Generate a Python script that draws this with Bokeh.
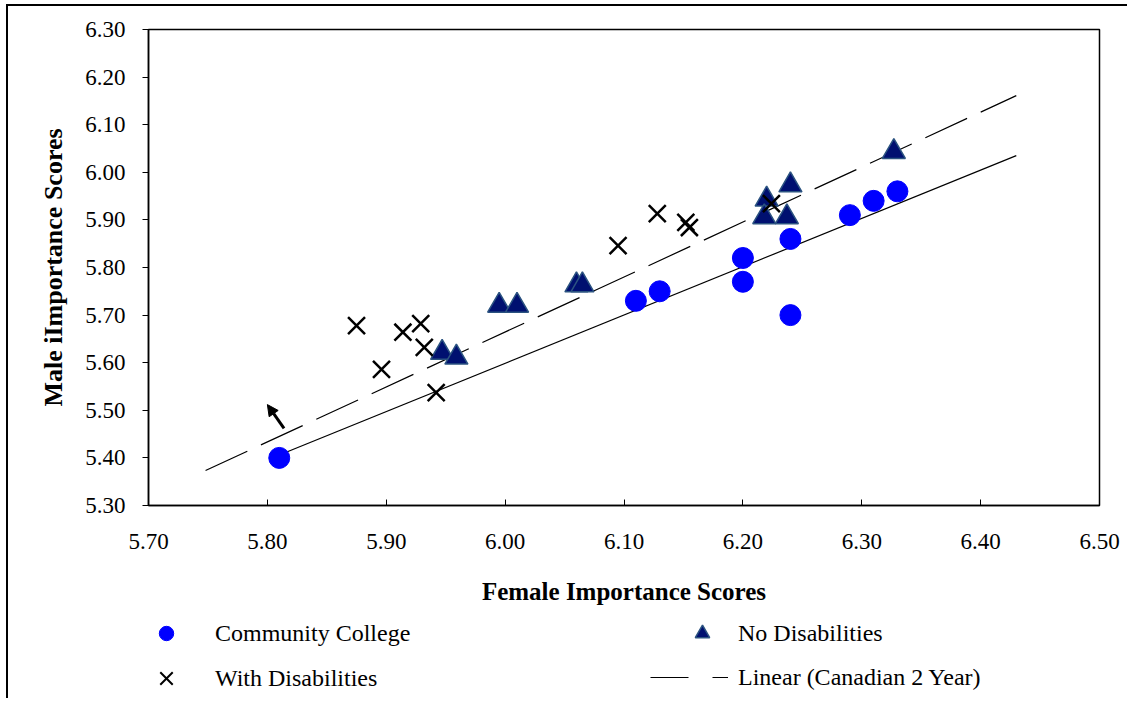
from bokeh.plotting import figure
from bokeh.layouts import column
from bokeh.models import (Range1d, FixedTicker, NumeralTickFormatter, Legend, LegendItem,
                          Arrow, NormalHead)
from bokeh.embed import file_html
from bokeh.resources import INLINE

# ---- data ----
x_ticks = [5.70, 5.80, 5.90, 6.00, 6.10, 6.20, 6.30, 6.40, 6.50]
y_ticks = [5.30, 5.40, 5.50, 5.60, 5.70, 5.80, 5.90, 6.00, 6.10, 6.20, 6.30]

cc_x = [5.81, 6.11, 6.13, 6.20, 6.20, 6.24, 6.24, 6.29, 6.31, 6.33]
cc_y = [5.40, 5.73, 5.75, 5.82, 5.77, 5.86, 5.70, 5.91, 5.94, 5.96]

nd_x = [5.995, 6.01, 5.947, 5.959, 6.06, 6.065, 6.22, 6.24, 6.218, 6.237, 6.327]
nd_y = [5.720, 5.720, 5.621, 5.611, 5.763, 5.763, 5.943, 5.973, 5.906, 5.906, 6.043]

wd_x = [5.875, 5.914, 5.929, 5.932, 5.896, 5.942, 6.095, 6.128, 6.152, 6.155, 6.224]
wd_y = [5.678, 5.664, 5.682, 5.632, 5.586, 5.537, 5.846, 5.913, 5.895, 5.884, 5.934]

trend_solid_x = [5.809, 6.430]
trend_solid_y = [5.405, 6.035]
trend_dash_x = [5.748, 6.430]
trend_dash_y = [5.3735, 6.161]

arrow_tail = (5.814, 5.462)
arrow_head = (5.800, 5.512)

labels = ["Community College", "No Disabilities", "With Disabilities", "Linear (Canadian 2 Year)"]

FONT = "Liberation Serif"
CC_STYLE = dict(marker="circle", fill_color="#0000FF", line_color="#0000FF")
ND_STYLE = dict(marker="triangle", fill_color="#001070", line_color="#2B5380", line_width=1.5)
WD_STYLE = dict(marker="x", line_color="black", line_width=2.5)

p = figure(width=1119, height=606, output_backend="svg", toolbar_location=None,
           x_range=Range1d(5.70, 6.50), y_range=Range1d(5.30, 6.30),
           min_border_left=140, min_border_top=23, min_border_right=28, min_border_bottom=107,
           x_axis_label="Female Importance Scores", y_axis_label="Male iImportance Scores")

p.xgrid.visible = False
p.ygrid.visible = False
p.outline_line_color = "black"
p.outline_line_width = 1.5
p.background_fill_color = "white"
p.border_fill_color = "white"

for ax, ticks in ((p.xaxis[0], x_ticks), (p.yaxis[0], y_ticks)):
    ax.ticker = FixedTicker(ticks=ticks)
    ax.formatter = NumeralTickFormatter(format="0.00")
    ax.minor_tick_line_color = None
    ax.axis_line_width = 1.5
    ax.axis_line_color = "black"
    ax.major_tick_line_color = "black"
    ax.major_label_text_font = FONT
    ax.major_label_text_font_size = "23px"
    ax.major_label_text_color = "black"
    ax.axis_label_text_font = FONT
    ax.axis_label_text_font_style = "bold"
    ax.axis_label_text_color = "black"

p.xaxis.major_tick_in = 6
p.xaxis.major_tick_out = 0
p.xaxis.major_label_standoff = 28
p.xaxis.axis_label_standoff = 26
p.xaxis.axis_label_text_font_size = "25px"

p.yaxis.major_tick_in = 0
p.yaxis.major_tick_out = 6
p.yaxis.major_label_standoff = 17
p.yaxis.axis_label_standoff = 14
p.yaxis.axis_label_text_font_size = "26px"

# trend lines
p.line(trend_solid_x, trend_solid_y, line_color="black", line_width=1.2)
p.line(trend_dash_x, trend_dash_y, line_color="black", line_width=1.2, line_dash="46 15")

# points
p.scatter(cc_x, cc_y, size=21, **CC_STYLE)
p.scatter(nd_x, nd_y, size=23, **ND_STYLE)
p.scatter(wd_x, wd_y, size=24, **WD_STYLE)

p.add_layout(Arrow(end=NormalHead(size=11, fill_color="black", line_color="black"),
                   x_start=arrow_tail[0], y_start=arrow_tail[1],
                   x_end=arrow_head[0], y_end=arrow_head[1],
                   line_width=3, line_color="black"))

# ---- legend strip below the chart (its frame is aligned with the chart frame) ----
lf = figure(width=1119, height=86, output_backend="svg", toolbar_location=None,
            x_range=Range1d(0, 1), y_range=Range1d(0, 1),
            x_axis_location=None, y_axis_location=None,
            min_border_left=0, min_border_right=0, min_border_top=0, min_border_bottom=0)
lf.xgrid.visible = False
lf.ygrid.visible = False
lf.outline_line_color = None
lf.background_fill_color = "white"
lf.border_fill_color = "white"

nan = float("nan")
lg_cc = lf.scatter(x=[nan], y=[nan], size=16, **CC_STYLE)
lg_nd = lf.scatter(x=[nan], y=[nan], size=18, **ND_STYLE)
lg_wd = lf.scatter(x=[nan], y=[nan], size=18, marker="x", line_color="black", line_width=2)
lg_line = lf.line(x=[nan, nan], y=[nan, nan], line_color="black", line_width=1.2,
                  line_dash="38 24 16 200")


def make_legend(item, loc, glyph_w, glyph_h, standoff):
    lg = Legend(items=[item], location=loc, orientation="vertical",
                glyph_width=glyph_w, glyph_height=glyph_h, label_height=24,
                label_standoff=standoff, spacing=0, padding=0, margin=0,
                border_line_color=None, background_fill_alpha=0,
                label_text_font=FONT, label_text_font_size="24px", label_text_color="black")
    lf.add_layout(lg, "center")
    return lg


make_legend(LegendItem(label=labels[0], renderers=[lg_cc]), (0, 47), 36, 36, 31)
make_legend(LegendItem(label=labels[2], renderers=[lg_wd]), (-4, -2), 44, 44, 27)
make_legend(LegendItem(label=labels[1], renderers=[lg_nd]), (536, 47), 36, 36, 18)
make_legend(LegendItem(label=labels[3], renderers=[lg_line]), (502, 3), 78, 36, 10)

layout = column(p, lf, spacing=0, margin=(4, 0, 0, 6),
                styles={"border-top": "2px solid black", "border-left": "2px solid black"})

open("out.html", "w").write(file_html(layout, INLINE))
